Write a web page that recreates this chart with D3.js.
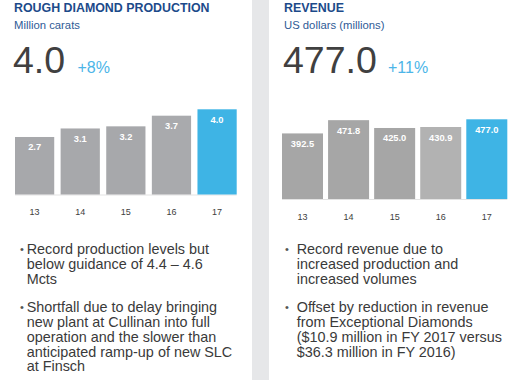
<!DOCTYPE html>
<html><head><meta charset="utf-8">
<script src="https://cdn.jsdelivr.net/npm/d3@7"></script>
<style>body{margin:0;background:#fff}svg{display:block}</style>
</head><body>
<script>
const years = ["13","14","15","16","17"];
const production = [2.7, 3.1, 3.2, 3.7, 4.0];
const revenue = [392.5, 471.8, 425.0, 430.9, 477.0];
const prodLabels = ["2.7","3.1","3.2","3.7","4.0"];
const revLabels = ["392.5","471.8","425.0","430.9","477.0"];
const prodBullets = [
  ["Record production levels but", "below guidance of 4.4 \u2013 4.6", "Mcts"],
  ["Shortfall due to delay bringing", "new plant at Cullinan into full", "operation and the slower than", "anticipated ramp-up of new SLC", "at Finsch"]
];
const revBullets = [
  ["Record revenue due to", "increased production and", "increased volumes"],
  ["Offset by reduction in revenue", "from Exceptional Diamonds", "($10.9 million in FY 2017 versus", "$36.3 million in FY 2016)"]
];

const W = 520, H = 380;
const FONT = "'Liberation Sans', Arial, sans-serif";
const svg = d3.select("body").append("svg").attr("width", W).attr("height", H)
  .style("font-family", FONT);

svg.append("rect").attr("x", 252).attr("y", 0).attr("width", 17).attr("height", H).attr("fill", "#e6e7e9");

function panel(o) {
  const g = svg.append("g");
  g.append("text").attr("x", o.x0).attr("y", 12).attr("font-size", 12.4).attr("font-weight", "bold")
    .attr("fill", "#1c4a8a").text(o.title);
  g.append("text").attr("x", o.x0).attr("y", 29).attr("font-size", 11.3)
    .attr("fill", "#2f5b96").text(o.subtitle);
  g.append("text").attr("x", o.x0 - 1).attr("y", 72.5).attr("font-size", 37.5)
    .attr("fill", "#404040").text(o.big);
  g.append("text").attr("x", o.pctX).attr("y", 72.5).attr("font-size", 16)
    .attr("fill", "#4cb5e8").text(o.pct);

  const x = d3.scaleBand().domain(years).range(o.xr).paddingInner(o.pad).paddingOuter(0);
  const y = d3.scaleLinear().domain([0, d3.max(o.values)]).range([o.base, o.top]);

  g.append("line").attr("x1", o.xr[0]).attr("x2", o.xr[1]).attr("y1", o.base + 0.5).attr("y2", o.base + 0.5)
    .attr("stroke", "#e3e3e3").attr("stroke-width", 1);

  g.selectAll(".bar").data(o.values).enter().append("rect")
    .attr("x", (d, i) => x(years[i])).attr("width", x.bandwidth())
    .attr("y", d => y(d)).attr("height", d => o.base - y(d))
    .attr("fill", (d, i) => o.colors[i]);

  g.selectAll(".vl").data(o.values).enter().append("text")
    .attr("x", (d, i) => x(years[i]) + x.bandwidth() / 2).attr("y", d => y(d) + 13.5)
    .attr("text-anchor", "middle").attr("font-size", 9.3).attr("font-weight", "bold")
    .attr("fill", "#ffffff").text((d, i) => o.labels[i]);

  const axis = d3.axisBottom(x).tickSize(0).tickPadding(0);
  const ag = g.append("g").attr("transform", `translate(0,${o.base})`).call(axis);
  ag.select(".domain").remove();
  ag.selectAll("text").attr("y", 0).attr("dy", 0).attr("transform", "translate(0,20.5)")
    .attr("font-size", 9).attr("font-family", FONT).attr("fill", "#404040");

  let yy = 254.3;
  o.bullets.forEach((b, bi) => {
    if (bi > 0) yy += 28.2;
    g.append("text").attr("x", o.bx).attr("y", yy - 1).attr("font-size", 11).attr("fill", "#555").text("\u2022");
    b.forEach((line, li) => {
      g.append("text").attr("x", o.tx).attr("y", yy).attr("font-size", 14.4)
        .attr("fill", "#3a3a3a").text(line);
      if (li < b.length - 1) yy += 14.8;
    });
  });
}

panel({
  x0: 14, title: "ROUGH DIAMOND PRODUCTION", subtitle: "Million carats", big: "4.0", pct: "+8%", pctX: 77.5,
  values: production, labels: prodLabels, xr: [15, 236.7], pad: 0.14, base: 194.5, top: 109.3,
  colors: ["#a7a8ab", "#a7a8ab", "#a7a8ab", "#a9aaad", "#3eb4e5"],
  bullets: prodBullets, bx: 20, tx: 26.7
});
panel({
  x0: 284, title: "REVENUE", subtitle: "US dollars (millions)", big: "477.0", pct: "+11%", pctX: 388,
  values: revenue, labels: revLabels, xr: [282, 507.3], pad: 0.11, base: 199, top: 119.3,
  colors: ["#a6a6a6", "#a6a6a6", "#a6a6a6", "#b2b2b2", "#3eb4e5"],
  bullets: revBullets, bx: 285, tx: 296.7
});
</script>
</body></html>
